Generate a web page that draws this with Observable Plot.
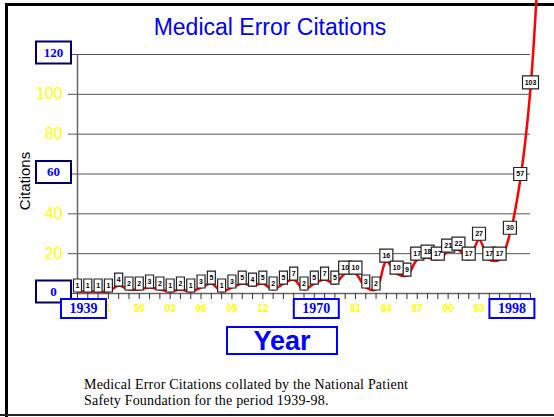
<!DOCTYPE html>
<html><head><meta charset="utf-8">
<script src="https://cdn.jsdelivr.net/npm/d3@7"></script>
<script src="https://cdn.jsdelivr.net/npm/@observablehq/plot@0.6"></script>
<style>
body{margin:0;background:#fff;}
#wrap{position:relative;width:554px;height:417px;overflow:hidden;font-family:"Liberation Sans",Arial,sans-serif;background:#fff;}
#wrap svg{position:absolute;left:0;top:0;}
.abs{position:absolute;}
#title{left:0;top:13px;width:540px;text-align:center;color:#0000ff;font-size:23px;line-height:28px;}
#ylab{left:-15px;top:172px;width:80px;text-align:center;font-size:15px;line-height:18px;color:#000;transform:rotate(-90deg);}
#year{left:226px;top:326px;width:108px;height:25px;border:2px solid #0000ff;text-align:center;color:#0000ff;font-weight:bold;font-size:27px;line-height:26px;background:#fff;}
#caption{left:84px;top:377px;font-family:"Liberation Serif","Times New Roman",serif;font-size:14px;line-height:16px;color:#000;white-space:nowrap;letter-spacing:0.2px;}
</style></head><body>
<div id="wrap">
  <div class="abs" style="left:5px;top:3px;width:549px;height:3px;background:#000"></div>
  <div class="abs" style="left:5px;top:3px;width:3px;height:414px;background:#000"></div>
  <div class="abs" style="left:0;top:414px;width:554px;height:2px;background:#222"></div>
</div>
<script>
// Citations per plotted entry (left to right), last one runs off the top
const citations = [1,1,1,1,4,2,2,3,2,1,2,1,3,5,1,3,5,4,5,2,5,7,2,5,7,5,10,10,3,2,16,10,9,17,18,17,21,22,17,27,17,17,30,57,103,190];
// small yellow x tick labels (entry index -> text)
const xTickIdx  = [3,6,9,12,15,18,21,27,30,33,36,39];
const xTickText = ["1","50","03","06","09","12","1","81","84","87","90","93"];
// boxed year labels
const yearBoxIdx  = [0,23,42];
const yearBoxText = ["1939","1970","1998"];
// y axis
const yGrid   = [20,40,60,80,100,120];
const yPlain  = [20,40,80,100];
const yBoxed  = [120,60,0];

const data  = citations.map((v,i)=>({i, v}));
const shown = data.filter(d => d.v <= 120);

function boxSymbol(w,h){
  return {draw(ctx){ctx.moveTo(-w/2,-h/2);ctx.lineTo(w/2,-h/2);ctx.lineTo(w/2,h/2);ctx.lineTo(-w/2,h/2);ctx.closePath();}};
}
const boxW = {1:8, 2:13, 3:16};
const nd = d => String(d.v).length;

const marks = [
  Plot.ruleY(yGrid, {stroke:"#555", strokeWidth:1}),
  Plot.axisY({ticks:[0,...yGrid], tickSize:9, tickFormat:()=>"", stroke:"#555", label:null}),
  Plot.ruleX([0], {stroke:"#666", strokeWidth:1.5}),
  Plot.ruleY([0], {stroke:"#666", strokeWidth:1.5}),
  Plot.axisX({ticks:d3.range(0,45), tickSize:6, tickFormat:()=>"", stroke:"#333", label:null}),
  Plot.text(yPlain, {y:d=>d, frameAnchor:"left", dx:-15, textAnchor:"end", lineAnchor:"middle", fill:"#ffff00", fontSize:16}),
  Plot.text(xTickIdx, {x:d=>d, text:(d,j)=>xTickText[j], frameAnchor:"bottom", dy:15, textAnchor:"middle", lineAnchor:"middle", fill:"#ffff00", fontSize:10, fontWeight:"bold"}),
  Plot.line(data, {x:"i", y:"v", stroke:"#ff0000", strokeWidth:2.5, curve:"catmull-rom"}),
  ...[1,2,3].map(n => Plot.dot(shown.filter(d => nd(d)===n), {x:"i", y:"v", dy:-6, r:1, symbol:boxSymbol(boxW[n],13), fill:"white", stroke:"#222", strokeWidth:1.2})),
  Plot.text(shown, {x:"i", y:"v", dy:-6, text:d=>String(d.v), fontSize:7, fontWeight:"bold", fill:"#000"}),
  Plot.dot(yBoxed, {y:d=>d, frameAnchor:"left", dx:-24, dy:-2, r:1, symbol:boxSymbol(35,22), fill:"white", stroke:"#000066", strokeWidth:2}),
  Plot.text(yBoxed, {y:d=>d, frameAnchor:"left", dx:-24, dy:-2, textAnchor:"middle", lineAnchor:"middle", text:d=>String(d), fill:"#0000ff", fontFamily:"Liberation Serif", fontWeight:"bold", fontSize:13}),
  ...yearBoxIdx.map((idx,j) => [
    Plot.dot([idx], {x:d=>d, frameAnchor:"bottom", dy:15, dx: j===0 ? 6 : 2, r:1, symbol:boxSymbol(45,19), fill:"white", stroke:"#0000ff", strokeWidth:2}),
    Plot.text([idx], {x:d=>d, frameAnchor:"bottom", dy:15, dx: j===0 ? 6 : 2, textAnchor:"middle", lineAnchor:"middle", text:()=>yearBoxText[j], fill:"#0000ff", fontFamily:"Liberation Serif", fontWeight:"bold", fontSize:14})
  ]).flat()
];

const chart = Plot.plot({
  width:554, height:417,
  marginLeft:77, marginRight:24, marginTop:54, marginBottom:124,
  x:{domain:[0,44], axis:null},
  y:{domain:[0,120], axis:null},
  style:{background:"transparent", overflow:"visible", fontFamily:"Liberation Sans, Arial, sans-serif"},
  marks
});
const wrap = document.getElementById("wrap");
wrap.appendChild(chart);
wrap.insertAdjacentHTML("beforeend",
  '<div id="title" class="abs">Medical Error Citations</div>' +
  '<div id="ylab" class="abs">Citations</div>' +
  '<div id="year" class="abs">Year</div>' +
  '<div id="caption" class="abs">Medical Error Citations collated by the National Patient<br>Safety Foundation for the period 1939-98.</div>');
</script>
</body></html>
